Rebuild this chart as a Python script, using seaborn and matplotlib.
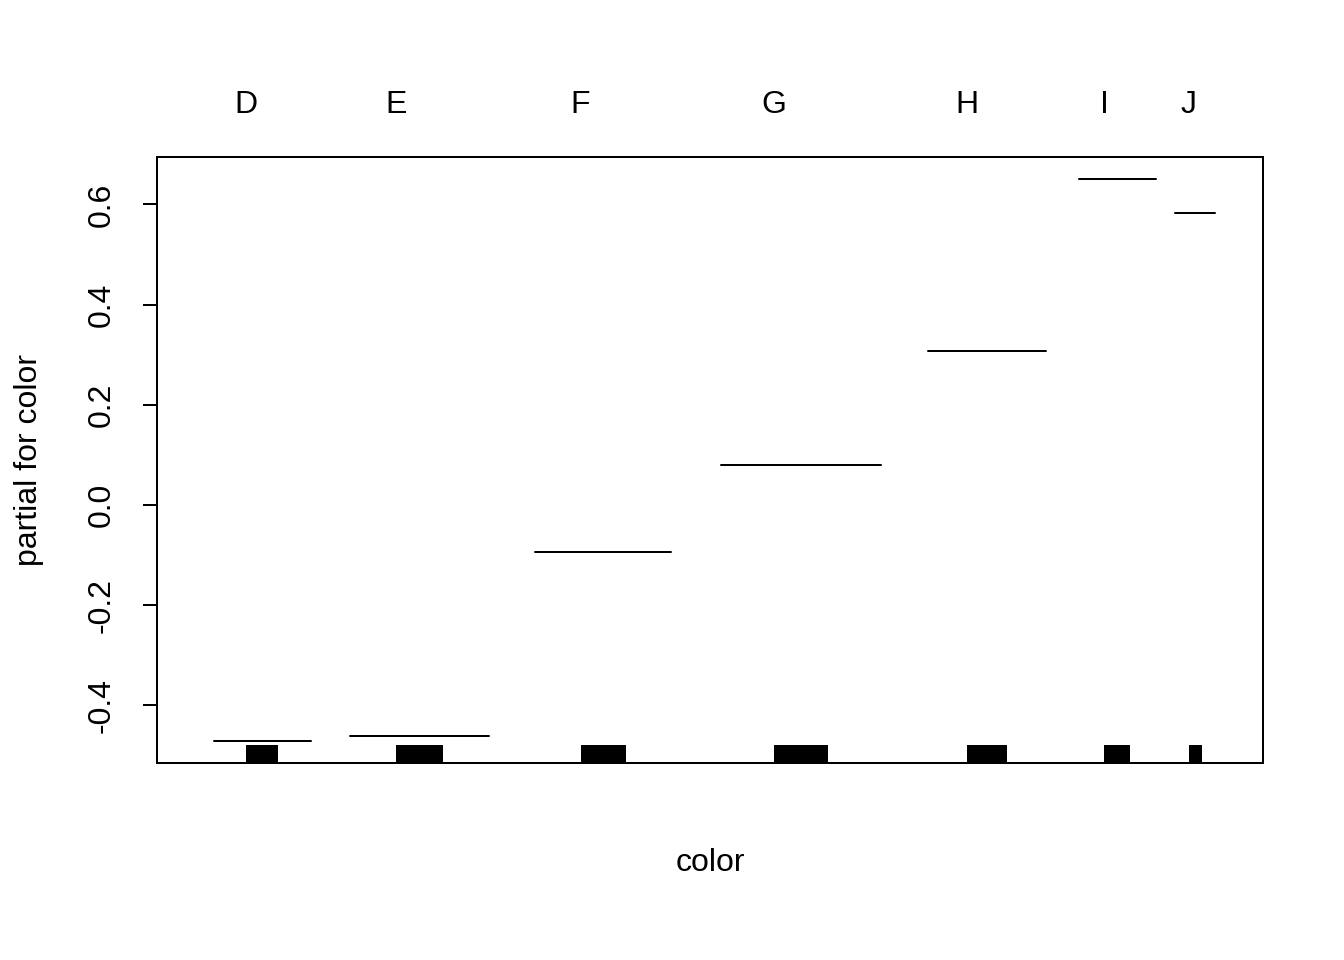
import numpy as np
import pandas as pd
import matplotlib
matplotlib.use("Agg")
import matplotlib.pyplot as plt
import seaborn as sns

# level names, number of rows per level, fitted partial effect per level
levels = ["D", "E", "F", "G", "H", "I", "J"]
counts = [6775, 9797, 9542, 11292, 8304, 5422, 2808]
partial = [-0.470, -0.460, -0.093, 0.081, 0.307, 0.650, 0.584]

sns.set_style("white", {"text.color": "black", "axes.labelcolor": "black",
                        "xtick.color": "black", "ytick.color": "black",
                        "axes.edgecolor": "black"})
plt.rcParams["font.family"] = ["Liberation Sans", "DejaVu Sans"]
plt.rcParams["font.size"] = 12

n = np.array(counts, dtype=float)
right = np.cumsum(n)
left = right - n
mid = (left + right) / 2
delta = n / 8
total = right[-1]

segs = pd.DataFrame({
    "color": levels * 2,
    "x": np.concatenate([left + delta, right - delta]),
    "y": partial * 2,
})

fig = plt.figure(figsize=(7, 5), dpi=192)
ax = fig.add_axes([157 / 1344, 1 - 763 / 960, (1263 - 157) / 1344, (763 - 157) / 960])

sns.lineplot(data=segs, x="x", y="y", units="color", estimator=None,
             color="black", linewidth=0.75, ax=ax, legend=False)

# rug: jittered points fill the middle quarter of each slot
for c, d in zip(mid, delta):
    ax.axvspan(c - d, c + d, ymin=0, ymax=0.03, color="black", lw=0)

pad = 0.04 * total
ax.set_xlim(-pad, total + pad)
yr = max(partial) - min(partial)
ax.set_ylim(min(partial) - 0.04 * yr, max(partial) + 0.04 * yr)

ax.set_yticks([-0.4, -0.2, 0.0, 0.2, 0.4, 0.6])
ax.set_yticklabels(["-0.4", "-0.2", "0.0", "0.2", "0.4", "0.6"], rotation=90, va="center")
ax.tick_params(axis="y", left=True, length=5.25, width=0.75, pad=10, labelsize=12,
               color="black", labelcolor="black")

ax.xaxis.tick_top()
ax.set_xticks(mid - delta)
ax.set_xticklabels(levels)
ax.tick_params(axis="x", top=False, bottom=False, labeltop=True, labelbottom=False,
               length=0, pad=14, labelsize=12, labelcolor="black")

for s in ax.spines.values():
    s.set_visible(True)
    s.set_linewidth(0.75)
    s.set_color("black")

ax.xaxis.set_label_position("bottom")
ax.set_xlabel("color", fontsize=12, labelpad=32, color="black")
ax.set_ylabel("partial for color", fontsize=12, labelpad=16, color="black")

fig.savefig("out.png", dpi=192, facecolor="white")
